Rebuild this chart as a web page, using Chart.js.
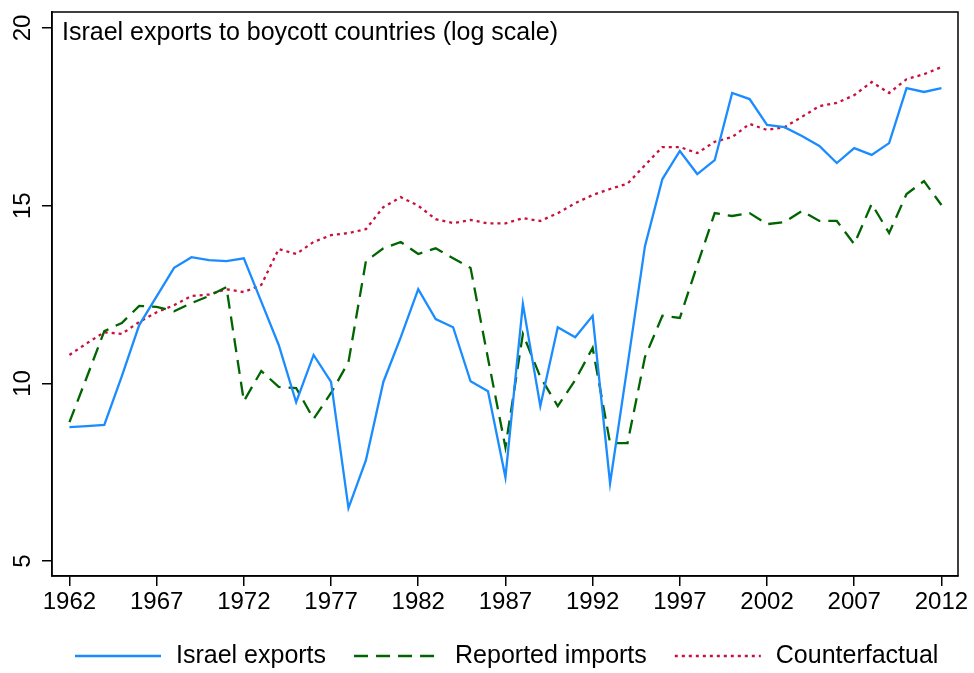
<!DOCTYPE html>
<html>
<head>
<meta charset="utf-8">
<script src="https://cdn.jsdelivr.net/npm/chart.js@4.4.1/dist/chart.umd.min.js"></script>
<style>
  html, body { margin: 0; padding: 0; background: #fff; }
  #wrap { width: 974px; height: 673px; position: relative; }
</style>
</head>
<body>
<div id="wrap"><canvas id="chart" width="974" height="673"></canvas></div>
<script>
'use strict';

// --- data ---
const years = [1962, 1963, 1964, 1965, 1966, 1967, 1968, 1969, 1970, 1971,
  1972, 1973, 1974, 1975, 1976, 1977, 1978, 1979, 1980, 1981,
  1982, 1983, 1984, 1985, 1986, 1987, 1988, 1989, 1990, 1991,
  1992, 1993, 1994, 1995, 1996, 1997, 1998, 1999, 2000, 2001,
  2002, 2003, 2004, 2005, 2006, 2007, 2008, 2009, 2010, 2011, 2012];

const israelExports = [8.77, 8.80, 8.83, 10.2, 11.64, 12.45, 13.25, 13.55, 13.47, 13.44,
  13.52, 12.3, 11.08, 9.47, 10.8, 10.04, 6.49, 7.84, 10.04, 11.3,
  12.65, 11.81, 11.58, 10.06, 9.78, 7.36, 12.23, 9.36, 11.58, 11.3,
  11.9, 7.19, 10.5, 13.86, 15.75, 16.54, 15.89, 16.28, 18.17, 18.0,
  17.27, 17.21, 16.96, 16.68, 16.2, 16.62, 16.43, 16.76, 18.31, 18.2, 18.31];

const reportedImports = [8.91, 10.18, 11.47, 11.7, 12.18, 12.15, 12.03, 12.26, 12.46, 12.71,
  9.5, 10.35, 9.9, 9.87, 9.0, 9.73, 10.6, 13.44, 13.8, 13.98,
  13.64, 13.8, 13.52, 13.25, 10.7, 8.2, 11.39, 10.18, 9.36, 10.09,
  11.0, 8.32, 8.32, 10.74, 11.9, 11.84, 13.33, 14.79, 14.71, 14.79,
  14.48, 14.54, 14.85, 14.57, 14.57, 13.92, 15.05, 14.23, 15.33, 15.69, 15.02];

const counterfactual = [10.8, 11.13, 11.44, 11.39, 11.73, 12.0, 12.2, 12.46, 12.5, 12.65,
  12.57, 12.77, 13.78, 13.64, 13.98, 14.17, 14.23, 14.34, 14.96, 15.24,
  15.0, 14.62, 14.51, 14.6, 14.5, 14.5, 14.65, 14.57, 14.79, 15.07,
  15.3, 15.47, 15.62, 16.14, 16.65, 16.65, 16.48, 16.8, 16.93, 17.3,
  17.13, 17.21, 17.5, 17.8, 17.89, 18.11, 18.48, 18.17, 18.56, 18.7, 18.9];

const xTicks = [1962, 1967, 1972, 1977, 1982, 1987, 1992, 1997, 2002, 2007, 2012];
const yTicks = [5, 10, 15, 20];
const titleText = 'Israel exports to boycott countries (log scale)';

const FONT = '"Liberation Sans", Arial, Helvetica, sans-serif';
const BLUE = '#1a8cff', GREEN = '#006400', RED = '#c8103c';

const toXY = vals => vals.map((v, i) => ({ x: years[i], y: v }));

const series = [
  { label: 'Israel exports', data: toXY(israelExports), borderColor: BLUE, borderDash: [] },
  { label: 'Reported imports', data: toXY(reportedImports), borderColor: GREEN, borderDash: [14, 8] },
  { label: 'Counterfactual', data: toXY(counterfactual), borderColor: RED, borderDash: [3, 4] },
];

// frame, rotated y labels, inner title and bottom legend
const decor = {
  id: 'decor',
  afterDraw(chart) {
    const { ctx, chartArea: a, scales } = chart;
    ctx.save();
    ctx.strokeStyle = '#000';
    ctx.lineWidth = 1.5;
    ctx.setLineDash([]);
    ctx.strokeRect(a.left, a.top, a.right - a.left, a.bottom - a.top);

    ctx.fillStyle = '#000';
    ctx.font = '24px ' + FONT;
    ctx.textAlign = 'center';
    ctx.textBaseline = 'middle';
    yTicks.forEach(v => {
      const y = scales.y.getPixelForValue(v);
      ctx.save();
      ctx.translate(23, y);
      ctx.rotate(-Math.PI / 2);
      ctx.fillText(String(v), 0, 0);
      ctx.restore();
    });

    ctx.font = '25px ' + FONT;
    ctx.textAlign = 'left';
    ctx.fillText(titleText, a.left + 10, 33);

    // legend
    const ly = 656;
    let x = 75;
    series.forEach(s => {
      ctx.strokeStyle = s.borderColor;
      ctx.lineWidth = 2.3;
      ctx.setLineDash(s.borderDash);
      ctx.beginPath();
      ctx.moveTo(x, ly);
      ctx.lineTo(x + 86, ly);
      ctx.stroke();
      ctx.setLineDash([]);
      ctx.fillStyle = '#000';
      ctx.fillText(s.label, x + 101, ly);
      x += 101 + ctx.measureText(s.label).width + 28;
    });
    ctx.restore();
  }
};

new Chart(document.getElementById('chart'), {
  type: 'line',
  data: {
    datasets: series.map(s => Object.assign({}, s, {
      borderWidth: 2.3,
      pointRadius: 0,
      tension: 0,
      fill: false,
    }))
  },
  options: {
    responsive: false,
    animation: false,
    layout: { padding: { left: 0, top: 12, right: 16, bottom: 57 } },
    plugins: { legend: { display: false }, tooltip: { enabled: false } },
    scales: {
      x: {
        type: 'linear',
        min: 1961,
        max: 2012.95,
        afterBuildTicks: s => { s.ticks = xTicks.map(v => ({ value: v })); },
        afterFit: s => { s.height = 40; },
        ticks: { color: '#000', font: { family: FONT, size: 24 }, padding: 2, maxRotation: 0, autoSkip: false, callback: v => String(v) },
        grid: { drawOnChartArea: false, drawTicks: true, tickLength: 10, color: '#000', lineWidth: 1.5 },
        border: { display: true, color: '#000', width: 1.5 },
      },
      y: {
        min: 4.58,
        max: 20.45,
        afterBuildTicks: s => { s.ticks = yTicks.map(v => ({ value: v })); },
        afterFit: s => { s.width = 52; },
        ticks: { callback: () => '', padding: 0 },
        grid: { drawOnChartArea: false, drawTicks: true, tickLength: 10, color: '#000', lineWidth: 1.5 },
        border: { display: true, color: '#000', width: 1.5 },
      }
    }
  },
  plugins: [decor]
});
</script>
</body>
</html>
